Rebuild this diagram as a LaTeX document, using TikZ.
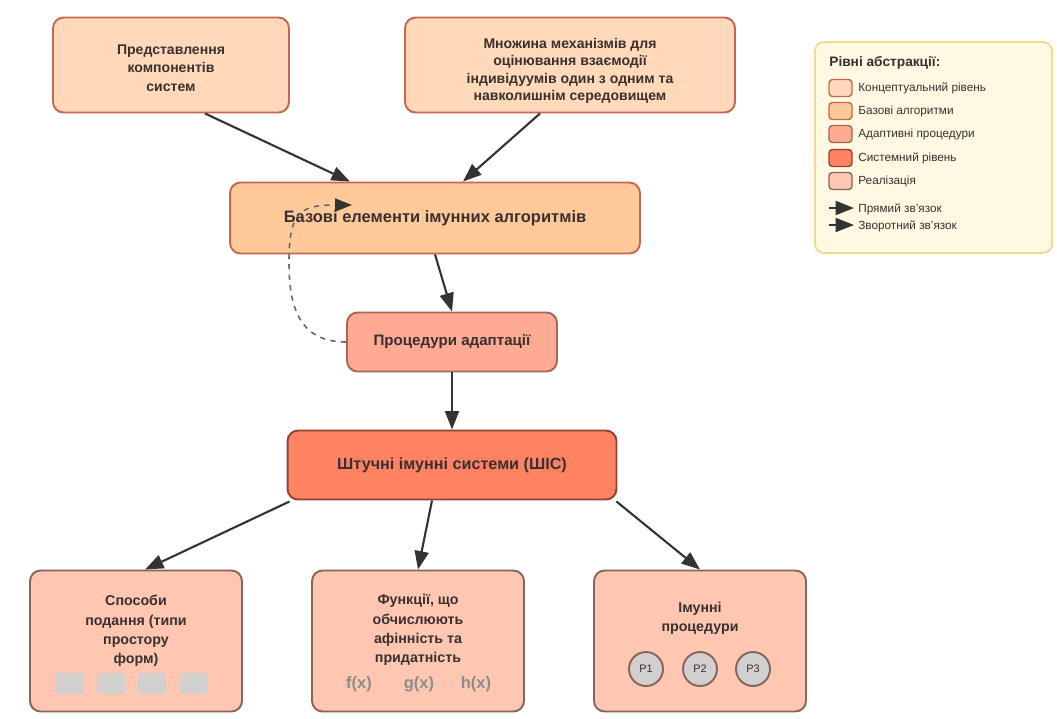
\documentclass[tikz,border=0pt]{standalone}
\usepackage{fontspec}
\setmainfont{Liberation Sans}
\usepackage{tikz}
\usetikzlibrary{arrows.meta, positioning, shapes.geometric}

\definecolor{txtDark}{HTML}{3A3030}
\definecolor{lineDark}{HTML}{333333}
\definecolor{fillConc}{HTML}{FFD9BA}
\definecolor{fillBase}{HTML}{FFC99A}
\definecolor{fillAdapt}{HTML}{FFAA92}
\definecolor{fillSys}{HTML}{FF8262}
\definecolor{fillImpl}{HTML}{FFC6B2}
\definecolor{drawConc}{HTML}{C4684E}
\definecolor{drawAdapt}{HTML}{A86656}
\definecolor{drawSys}{HTML}{8E4232}
\definecolor{drawImpl}{HTML}{86655C}
\definecolor{legFill}{HTML}{FFF8E2}
\definecolor{legDraw}{HTML}{F2D98E}
\definecolor{chipGray}{HTML}{D2D0CE}

\begin{document}
\begin{tikzpicture}[
  x=0.02cm, y=-0.02cm,
  font=\bfseries\fontsize{8}{10.4}\selectfont,
  box/.style={
    draw, line width=1.1pt, rounded corners=6pt,
    inner sep=2pt, align=center, text=txtDark
  },
  boxConc/.style={box, draw=drawConc, fill=fillConc, minimum height=1.9cm},
  boxBase/.style={box, draw=drawConc, fill=fillBase,
    minimum width=8.2cm, minimum height=1.42cm, font=\bfseries\fontsize{9.4}{11}\selectfont},
  boxAdapt/.style={box, draw=drawAdapt, fill=fillAdapt, minimum width=4.2cm, minimum height=1.18cm,
    font=\bfseries\fontsize{8.6}{10}\selectfont},
  boxSys/.style={box, draw=drawSys, fill=fillSys,
    minimum width=6.58cm, minimum height=1.38cm, font=\bfseries\fontsize{9.2}{11}\selectfont},
  boxImpl/.style={box, draw=drawImpl, fill=fillImpl, minimum width=4.24cm, minimum height=2.82cm},
  lbl/.style={align=center, text=txtDark, inner sep=0pt, font=\bfseries\fontsize{8.1}{11}\selectfont},
  chip/.style={fill=chipGray, minimum width=0.56cm, minimum height=0.42cm, inner sep=0pt},
  func/.style={text=black!45, inner sep=0pt, font=\bfseries\fontsize{9.4}{11}\selectfont},
  proc/.style={circle, draw=drawImpl, line width=1.1pt, fill=chipGray, minimum size=0.68cm,
    inner sep=0pt, text=txtDark, font=\fontsize{6.2}{7}\selectfont},
  flow/.style={draw=lineDark, line width=1.2pt, -{Triangle[length=3.7mm, width=2.8mm]}},
  back/.style={draw=black!60, line width=0.9pt, dashed,
    -{Triangle[length=3.4mm, width=2.6mm, color=lineDark]}},
  swatch/.style={draw, line width=0.8pt, rounded corners=2pt, minimum width=0.46cm,
    minimum height=0.34cm, inner sep=0pt},
  legText/.style={anchor=west, inner sep=0pt, text=txtDark, font=\fontsize{6.7}{8}\selectfont}
]
\useasboundingbox (0,0) rectangle (1057,718);

% upper level
\node[boxConc, minimum width=4.72cm] (repr) at (171,65) {};
\node[lbl, font=\bfseries\fontsize{8}{10.6}\selectfont] (reprT) at (171,68)
  {Представлення\\компонентів\\систем};
\node[boxConc, minimum width=6.6cm] (mech) at (570,65) {};
\node[lbl, font=\bfseries\fontsize{8}{10}\selectfont] (mechT) at (570,71)
  {Множина механізмів для\\оцінювання взаємодії\\індивідуумів один з одним та\\навколишнім середовищем};

\node[boxBase] (base) at (435,218) {Базові елементи імунних алгоритмів};
\node[boxAdapt] (adapt) at (452,342) {Процедури адаптації};
\node[boxSys] (ais) at (452,465) {Штучні імунні системи (ШІС)};

% lower level
\node[boxImpl] (forms) at (136,641) {};
\node[boxImpl] (funcs) at (418,641) {};
\node[boxImpl] (immproc) at (700,641) {};

\node[lbl] (formsT) at (136,631) {Способи\\подання (типи\\простору\\форм)};
\foreach \cx/\nm in {69/a, 111/b, 152/c, 193/d}
  \node[chip] (chip\nm) at (\cx,683) {};

\node[lbl] (funcsT) at (418,630) {Функції, що\\обчислюють\\афінність та\\придатність};
\node[func] (fx) at (359,684) {f(x)};
\node[func] (gx) at (419,684) {g(x)};
\node[func] (hx) at (476,684) {h(x)};

\node[lbl] (immprocT) at (700,618) {Імунні\\процедури};
\node[proc] (p1) at (646,669) {P1};
\node[proc] (p2) at (700,669) {P2};
\node[proc] (p3) at (753,669) {P3};

% connectors
\draw[flow] ([xshift=0.68cm]repr.south) -- ([xshift=-1.7cm]base.north);
\draw[flow] ([xshift=-0.6cm]mech.south) -- ([xshift=0.56cm]base.north);
\draw[flow] (base.south) -- (adapt.north);
\draw[flow] (adapt.south) -- (ais.north);
\draw[flow] ([xshift=0.06cm, yshift=-0.02cm]ais.south west) -- ([xshift=0.18cm]forms.north);
\draw[flow] ([xshift=-0.4cm]ais.south) -- (funcs.north);
\draw[flow] ([xshift=-0.02cm, yshift=-0.02cm]ais.south east) -- (immproc.north);

\coordinate (loopEnd) at (352,205);
\draw[back] (adapt.west) .. controls (298,342) and (289,305) .. (289,262)
  .. controls (289,212) and (300,205) .. (loopEnd);

% legend
\node[draw=legDraw, fill=legFill, line width=1pt, rounded corners=5pt,
  minimum width=4.74cm, minimum height=4.22cm] (legend) at (933.5,147.5) {};
\node[anchor=west, inner sep=0pt, text=txtDark, font=\bfseries\fontsize{7.8}{9}\selectfont]
  (legTitle) at (829,63) {Рівні абстракції:};
\foreach \yy/\fc/\dc/\tx [count=\i] in {
    88/fillConc/drawConc/Концептуальний рівень,
    111/fillBase/drawConc/Базові алгоритми,
    134/fillAdapt/drawAdapt/Адаптивні процедури,
    158/fillSys/drawSys/Системний рівень,
    181/fillImpl/drawImpl/Реалізація} {
  \node[swatch, fill=\fc, draw=\dc] (sw\i) at (840.5,\yy) {};
  \node[legText] (swT\i) at (858,\yy) {\tx};
}
\coordinate (fwdA) at (829,208);
\coordinate (fwdB) at (854,208);
\coordinate (revA) at (829,225);
\coordinate (revB) at (854,225);
\draw[flow] (fwdA) -- (fwdB);
\draw[flow] (revA) -- (revB);
\node[legText] (fwdT) at (858,209) {Прямий зв'язок};
\node[legText] (revT) at (858,226) {Зворотний зв'язок};
\end{tikzpicture}
\end{document}
